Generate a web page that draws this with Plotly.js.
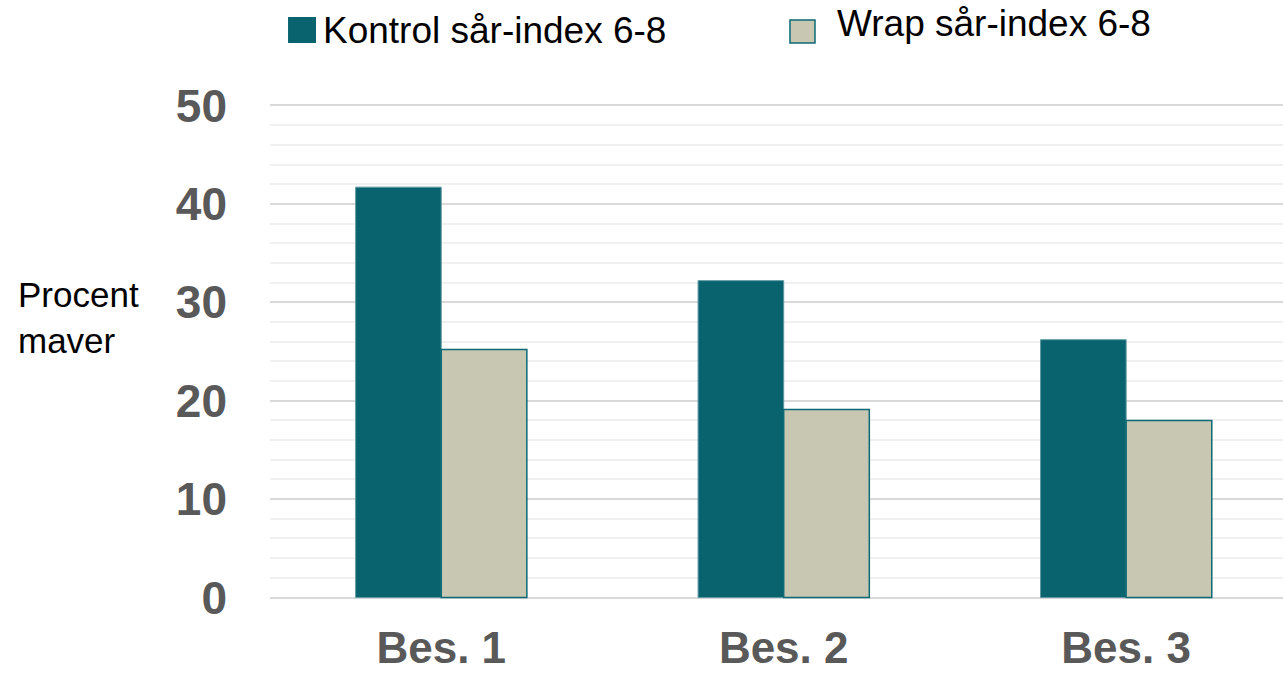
<!DOCTYPE html>
<html>
<head>
<meta charset="utf-8">
<script src="https://cdn.plot.ly/plotly-3.0.1.min.js"></script>
<style>html,body{margin:0;padding:0;background:#fff;}#chart{width:1283px;height:675px;}</style>
</head>
<body>
<div id="chart"></div>
<script>
const categories = ["Bes. 1", "Bes. 2", "Bes. 3"];
const seriesNames = ["Kontrol sår-index 6-8", "Wrap sår-index 6-8"];
const kontrolValues = [41.7, 32.2, 26.2];
const wrapValues = [25.2, 19.1, 18.0];
const yTickValues = [0, 10, 20, 30, 40, 50];
const yTitleText = "Procent<br>maver";

const FONT = "Liberation Sans, Arial, Helvetica, sans-serif";
const KONTROL_COLOR = "#08636F";
const WRAP_COLOR = "#C8C7B2";
const WRAP_EDGE = "#0B6A75";

const traces = [
  {
    type: "bar", name: seriesNames[0], x: categories, y: kontrolValues,
    marker: {color: KONTROL_COLOR, line: {color: "#5E98A0", width: 1}},
    showlegend: false, hoverinfo: "y"
  },
  {
    type: "bar", name: seriesNames[1], x: categories, y: wrapValues,
    marker: {color: WRAP_COLOR, line: {color: WRAP_EDGE, width: 1.5}},
    showlegend: false, hoverinfo: "y"
  }
];

// legend drawn as swatches + labels above the plot (paper coordinates)
const legendShapes = [
  {type: "rect", xref: "paper", yref: "paper", x0: 0.0178, x1: 0.0454, y0: 1.1207, y1: 1.1730,
   fillcolor: KONTROL_COLOR, line: {width: 0}},
  {type: "rect", xref: "paper", yref: "paper", x0: 0.5133, x1: 0.5380, y0: 1.1207, y1: 1.1670,
   fillcolor: WRAP_COLOR, line: {color: WRAP_EDGE, width: 1.5}}
];
const legendAnnotations = [
  {text: seriesNames[0], xref: "paper", yref: "paper", x: 0.0503, xanchor: "left",
   y: 1.1449, yanchor: "middle", showarrow: false,
   font: {family: FONT, size: 37, color: "#000000"}},
  {text: seriesNames[1], xref: "paper", yref: "paper", x: 0.5577, xanchor: "left",
   y: 1.1590, yanchor: "middle", showarrow: false,
   font: {family: FONT, size: 37, color: "#000000"}}
];

const layout = {
  width: 1283, height: 675,
  margin: {l: 270, r: 0, t: 103, b: 75, pad: 0},
  paper_bgcolor: "#ffffff", plot_bgcolor: "#ffffff",
  font: {family: FONT, color: "#000000"},
  barmode: "group", bargap: 0.5, bargroupgap: 0,
  showlegend: false,
  xaxis: {
    type: "category", range: [-0.5, 2.458],
    showgrid: false, zeroline: false, showline: false, ticks: "",
    tickfont: {family: FONT, size: 44, color: "#595959", weight: "bold"},
    ticklabelstandoff: 18, fixedrange: true
  },
  yaxis: {
    range: [-0.25, 50.25], tickvals: yTickValues, ticktext: yTickValues.map(String),
    showgrid: true, gridcolor: "#D9D9D9", gridwidth: 2,
    minor: {dtick: 2, showgrid: true, gridcolor: "#F0F0F0", gridwidth: 2},
    zeroline: false, showline: false, ticks: "",
    tickfont: {family: FONT, size: 46, color: "#595959", weight: "bold"},
    ticklabelstandoff: 42, fixedrange: true
  },
  shapes: legendShapes,
  annotations: [{
    text: yTitleText, xref: "paper", yref: "paper",
    x: -0.251, xanchor: "left", y: 0.569, yanchor: "middle",
    showarrow: false, align: "left",
    font: {family: FONT, size: 35, color: "#000000"}
  }].concat(legendAnnotations)
};

Plotly.newPlot("chart", traces, layout, {displayModeBar: false, staticPlot: true});
</script>
</body>
</html>
